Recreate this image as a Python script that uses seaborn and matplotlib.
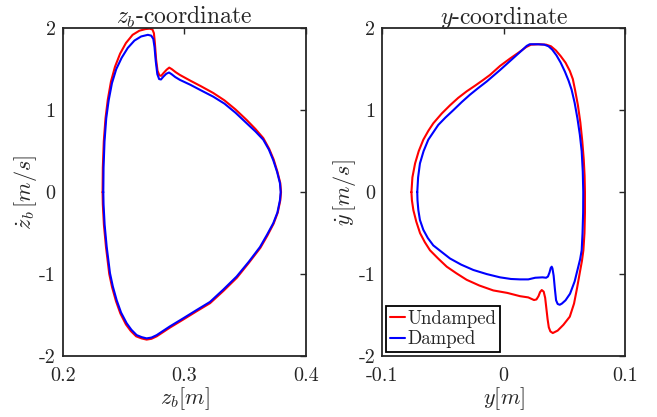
import numpy as np
import matplotlib
matplotlib.use("Agg")
import matplotlib.pyplot as plt
import seaborn as sns
import pandas as pd

# z_b phase portrait
zb_und_x = [0.2328, 0.2330, 0.2338, 0.2352, 0.2371, 0.2397, 0.2430, 0.2472, 0.2520, 0.2575,
            0.2630, 0.2680, 0.2715, 0.2738, 0.2750, 0.2758, 0.2768, 0.2780, 0.2795, 0.2810,
            0.2830, 0.2855, 0.2876, 0.2898, 0.2928, 0.2964, 0.3050, 0.3140, 0.3238, 0.3330,
            0.3420, 0.3513, 0.3585, 0.3649, 0.3697, 0.3734, 0.3765, 0.3789, 0.3795, 0.3789,
            0.3768, 0.3734, 0.3683, 0.3625, 0.3532, 0.3432, 0.3322, 0.3212, 0.3100, 0.2991,
            0.2880, 0.2773, 0.2730, 0.2690, 0.2648, 0.2604, 0.2560, 0.2520, 0.2474, 0.2438,
            0.2406, 0.2383, 0.2356, 0.2339, 0.2330, 0.2328]
zb_und_v = [0.00, 0.30, 0.62, 0.90, 1.13, 1.35, 1.53, 1.69, 1.82, 1.92,
            1.97, 1.99, 1.995, 1.985, 1.94, 1.82, 1.62, 1.48, 1.425, 1.42,
            1.455, 1.495, 1.52, 1.50, 1.465, 1.43, 1.36, 1.29, 1.21, 1.12,
            1.01, 0.88, 0.77, 0.66, 0.53, 0.40, 0.25, 0.11, 0.00, -0.10,
            -0.25, -0.385, -0.53, -0.68, -0.86, -1.045, -1.205, -1.355, -1.455, -1.555,
            -1.655, -1.76, -1.79, -1.80, -1.785, -1.76, -1.695, -1.615, -1.48, -1.33,
            -1.16, -1.00, -0.67, -0.40, -0.15, 0.00]

zb_dmp_x = [0.2334, 0.2336, 0.2344, 0.2358, 0.2378, 0.2405, 0.2440, 0.2485, 0.2535, 0.2590,
            0.2645, 0.2700, 0.2728, 0.2745, 0.2755, 0.2765, 0.2778, 0.2793, 0.2808, 0.2828,
            0.2852, 0.2874, 0.2895, 0.2925, 0.2964, 0.3050, 0.3140, 0.3238, 0.3330, 0.3420,
            0.3513, 0.3585, 0.3649, 0.3695, 0.3731, 0.3762, 0.3786, 0.3792, 0.3786, 0.3765,
            0.3731, 0.3680, 0.3622, 0.3530, 0.3430, 0.3320, 0.3211, 0.3100, 0.2991, 0.2880,
            0.2773, 0.2730, 0.2690, 0.2650, 0.2608, 0.2565, 0.2526, 0.2480, 0.2444, 0.2412,
            0.2389, 0.2362, 0.2345, 0.2336, 0.2334]
zb_dmp_v = [0.00, 0.30, 0.62, 0.90, 1.12, 1.33, 1.50, 1.64, 1.76, 1.85,
            1.90, 1.92, 1.91, 1.87, 1.77, 1.60, 1.44, 1.38, 1.375, 1.41,
            1.445, 1.46, 1.44, 1.405, 1.37, 1.31, 1.24, 1.165, 1.08, 0.97,
            0.84, 0.74, 0.64, 0.52, 0.39, 0.25, 0.11, 0.00, -0.10, -0.25,
            -0.38, -0.52, -0.67, -0.85, -1.03, -1.19, -1.34, -1.44, -1.54, -1.64,
            -1.745, -1.775, -1.785, -1.77, -1.745, -1.68, -1.60, -1.47, -1.32, -1.15,
            -0.99, -0.67, -0.40, -0.15, 0.00]

# y phase portrait
y_und_x = [-0.0760, -0.0752, -0.0730, -0.0700, -0.0662, -0.0620, -0.0580, -0.0510, -0.0442, -0.0375,
           -0.0305, -0.0235, -0.0168, -0.0113, -0.0030, 0.0052, 0.0130, 0.0185, 0.0225, 0.0290,
           0.0350, 0.0390, 0.0430, 0.0470, 0.0510, 0.0545, 0.0570, 0.0588, 0.0612, 0.0632,
           0.0648, 0.0660, 0.0667, 0.0670, 0.0670, 0.0666, 0.0657, 0.0645, 0.0629, 0.0605,
           0.0580, 0.0545, 0.0492, 0.0445, 0.0405, 0.0385, 0.0372, 0.0362, 0.0352, 0.0342,
           0.0330, 0.0314, 0.0300, 0.0287, 0.0270, 0.0250, 0.0225, 0.0203, 0.0135, 0.0030,
           -0.0085, -0.0200, -0.0305, -0.0390, -0.0469, -0.0540, -0.0607, -0.0650, -0.0689, -0.0720,
           -0.0744, -0.0756, -0.0760]
y_und_v = [0.00, 0.18, 0.35, 0.50, 0.64, 0.75, 0.84, 0.96, 1.06, 1.15,
           1.23, 1.30, 1.37, 1.43, 1.54, 1.63, 1.71, 1.77, 1.80, 1.805,
           1.80, 1.78, 1.73, 1.66, 1.58, 1.48, 1.38, 1.25, 1.06, 0.85,
           0.62, 0.40, 0.20, 0.00, -0.25, -0.50, -0.71, -0.84, -0.97, -1.17,
           -1.36, -1.52, -1.62, -1.69, -1.72, -1.70, -1.65, -1.55, -1.42, -1.29,
           -1.215, -1.195, -1.22, -1.27, -1.31, -1.317, -1.30, -1.285, -1.27, -1.23,
           -1.20, -1.14, -1.07, -0.99, -0.91, -0.81, -0.71, -0.61, -0.50, -0.36,
           -0.22, -0.10, 0.00]

y_dmp_x = [-0.0712, -0.0705, -0.0690, -0.0660, -0.0621, -0.0580, -0.0539, -0.0480, -0.0415, -0.0345,
           -0.0277, -0.0210, -0.0140, -0.0030, 0.0030, 0.0090, 0.0150, 0.0190, 0.0215, 0.0280,
           0.0335, 0.0370, 0.0400, 0.0435, 0.0470, 0.0505, 0.0535, 0.0560, 0.0585, 0.0608,
           0.0628, 0.0643, 0.0652, 0.0656, 0.0655, 0.0650, 0.0643, 0.0630, 0.0615, 0.0585,
           0.0547, 0.0510, 0.0480, 0.0462, 0.0445, 0.0432, 0.0422, 0.0412, 0.0402, 0.0396,
           0.0388, 0.0378, 0.0365, 0.0350, 0.0320, 0.0260, 0.0203, 0.0135, 0.0060, -0.0030,
           -0.0140, -0.0250, -0.0350, -0.0442, -0.0520, -0.0580, -0.0625, -0.0662, -0.0690, -0.0703,
           -0.0710, -0.0712]
y_dmp_v = [0.00, 0.18, 0.35, 0.50, 0.64, 0.73, 0.82, 0.91, 1.00, 1.10,
           1.19, 1.27, 1.35, 1.49, 1.57, 1.65, 1.73, 1.785, 1.805, 1.805,
           1.80, 1.78, 1.74, 1.67, 1.58, 1.47, 1.36, 1.25, 1.09, 0.90,
           0.70, 0.50, 0.25, 0.00, -0.25, -0.50, -0.71, -0.82, -0.91, -1.09,
           -1.24, -1.32, -1.36, -1.375, -1.365, -1.32, -1.18, -1.02, -0.93, -0.91,
           -0.925, -0.98, -1.03, -1.045, -1.04, -1.045, -1.065, -1.065, -1.06, -1.04,
           -1.00, -0.95, -0.885, -0.81, -0.72, -0.65, -0.56, -0.46, -0.34, -0.22,
           -0.10, 0.00]

zb_ticks = [0.2, 0.3, 0.4]
zb_ticklabels = ["0.2", "0.3", "0.4"]
y_ticks = [-0.1, 0.0, 0.1]
y_ticklabels = ["-0.1", "0", "0.1"]
v_ticks = [-2, -1, 0, 1, 2]
v_ticklabels = ["-2", "-1", "0", "1", "2"]

sns.set_style("white")
plt.rcParams["font.family"] = "serif"
plt.rcParams["font.serif"] = ["cmr10", "DejaVu Serif"]
plt.rcParams["mathtext.fontset"] = "cm"
plt.rcParams["axes.unicode_minus"] = False
plt.rcParams["axes.formatter.use_mathtext"] = True
plt.rcParams["lines.solid_joinstyle"] = "round"
plt.rcParams["lines.solid_capstyle"] = "round"

DARK = "#262626"
LW = 1.5

fig = plt.figure(figsize=(6.57, 4.17), dpi=100)
ax1 = fig.add_axes([0.0954, 0.1463, 0.3703, 0.7859])
ax2 = fig.add_axes([0.5819, 0.1463, 0.3694, 0.7859])

df_zb_u = pd.DataFrame({"x": zb_und_x, "v": zb_und_v})
df_zb_d = pd.DataFrame({"x": zb_dmp_x, "v": zb_dmp_v})
df_y_u = pd.DataFrame({"x": y_und_x, "v": y_und_v})
df_y_d = pd.DataFrame({"x": y_dmp_x, "v": y_dmp_v})

sns.lineplot(data=df_zb_u, x="x", y="v", sort=False, estimator=None, color="#ff0000", lw=LW, ax=ax1)
sns.lineplot(data=df_zb_d, x="x", y="v", sort=False, estimator=None, color="#0000ff", lw=LW, ax=ax1)
sns.lineplot(data=df_y_u, x="x", y="v", sort=False, estimator=None, color="#ff0000", lw=LW, ax=ax2, label="Undamped")
sns.lineplot(data=df_y_d, x="x", y="v", sort=False, estimator=None, color="#0000ff", lw=LW, ax=ax2, label="Damped")

for ax, xt, xl in [(ax1, zb_ticks, zb_ticklabels), (ax2, y_ticks, y_ticklabels)]:
    ax.set_xlim(xt[0], xt[-1])
    ax.set_ylim(-2, 2)
    ax.set_xticks(xt)
    ax.set_xticklabels(xl)
    ax.set_yticks(v_ticks)
    ax.set_yticklabels(v_ticklabels)
    ax.tick_params(direction="in", top=True, right=True, length=4, width=1.0,
                   labelsize=14.5, colors=DARK)
    ax.tick_params(axis="x", pad=8)
    ax.tick_params(axis="y", pad=5)
    for s in ax.spines.values():
        s.set_visible(True)
        s.set_linewidth(1.3)
        s.set_color(DARK)

ax1.set_title(r"$z_b$-coordinate", fontsize=17, color=DARK, pad=3)
ax1.set_xlabel(r"$z_b[m]$", fontsize=16, color=DARK, labelpad=0)
ax1.set_ylabel(r"$\dot{z}_b\,[m/s]$", fontsize=16, color=DARK, labelpad=0)
ax2.set_title(r"$y$-coordinate", fontsize=17, color=DARK, pad=3)
ax2.set_xlabel(r"$y[m]$", fontsize=16, color=DARK, labelpad=0)
ax2.set_ylabel(r"$\dot{y}\,[m/s]$", fontsize=16, color=DARK, labelpad=0)

leg = ax2.legend(loc="lower left", fontsize=13.5, frameon=True, fancybox=False,
                 edgecolor="black", framealpha=1, borderaxespad=0.2, handlelength=0.8,
                 handletextpad=0.15, borderpad=0.2, labelspacing=0.15)
leg.get_frame().set_linewidth(1.3)

fig.savefig("out.png", dpi=100)
